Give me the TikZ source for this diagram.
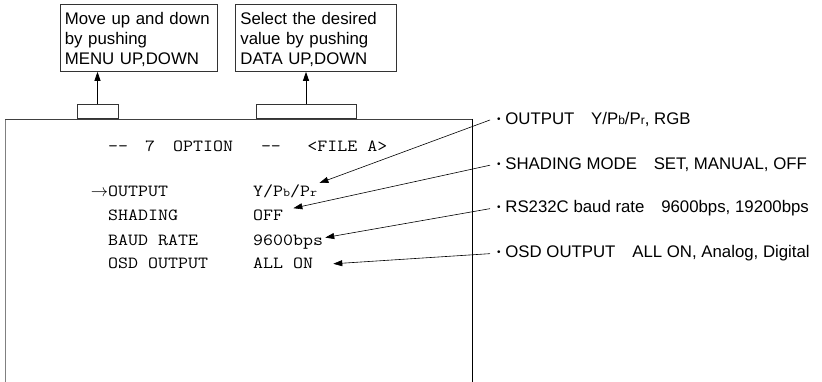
\documentclass[tikz,border=0pt]{standalone}
\usepackage{fontspec}
\setmainfont{Liberation Sans}
\setmonofont{Latin Modern Mono}[FakeStretch=1.14]
\usetikzlibrary{arrows.meta,positioning}

\newcommand{\smlchr}[1]{{\fontsize{12}{12}\selectfont #1}}
\newcommand{\dotmark}{\raisebox{2.5pt}{\fontsize{10}{10}\selectfont\char"2022}}

\begin{document}
\begin{tikzpicture}[x=1pt, y=-1pt, >={Triangle[length=9pt,width=6pt]},
  note/.style={draw=black!80, line width=0.8pt, anchor=north west, align=left,
    text width=#1, inner xsep=5pt, minimum height=67pt,
    font=\fontsize{16.8}{20}\selectfont},
  tab/.style={draw=black!80, line width=0.8pt, anchor=south, inner sep=0pt,
    minimum height=14pt, minimum width=#1},
  scr/.style={anchor=base west, inner sep=2pt,
    font=\ttfamily\fontsize{17}{20}\selectfont},
  opt/.style={anchor=base west, inner xsep=7pt,
    font=\fontsize{16.8}{20}\selectfont},
  arr/.style={line width=0.8pt, ->},
  lead/.style={line width=0.6pt, ->},
]
\useasboundingbox (0,0) rectangle (822,382);

%% Screen frame (open at the bottom)
\draw[gray, line width=0.9pt] (5,382) -- (5,119);
\draw[black!75, line width=0.8pt] (5,119) -- (472,119);
\draw[black, line width=0.8pt] (472,119) -- (472,382);

%% Key notes above the screen
\node[note=147pt] (boxm) at (59.5,4) {\rule{0pt}{16pt}Move up and down\\by pushing\\MENU UP,DOWN};
\node[note=151pt] (boxd) at (235,4) {\rule{0pt}{16pt}Select the desired\\value by pushing\\DATA UP,DOWN};

%% Tabs on the frame
\node[tab=41pt] (tabm) at (97.5,119) {};
\node[tab=100pt] (tabd) at (306,119) {};

\draw[arr] (tabm.north) -- (tabm.north |- boxm.south);
\draw[arr] (tabd.north) -- (tabd.north |- boxd.south);

%% Menu page
\node[scr] (hdr) at (106,152) {--\hspace{17pt}7\hspace{18pt}OPTION\hspace{28pt}--\hspace{26.5pt}<FILE A>};

\node[scr] (iout)  at (106,197) {\llap{$\rightarrow$}OUTPUT};
\node[scr] (ishd)  at (106,221) {SHADING};
\node[scr] (ibaud) at (106,245) {BAUD RATE};
\node[scr] (iosd)  at (106,269) {OSD OUTPUT};

\node[scr] (vout)  at (251,197) {Y/P\smlchr{b}/P\smlchr{r}};
\node[scr] (vshd)  at (251,221) {OFF};
\node[scr] (vbaud) at (251,245) {9600bps};
\node[scr] (vosd)  at (251,269) {ALL ON};

%% Setting ranges
\node[opt] (oout)  at (490,125) {\dotmark\ OUTPUT\quad Y/P\smlchr{b}/P\smlchr{r}, RGB};
\node[opt] (oshd)  at (490,170) {\dotmark\ SHADING MODE\quad SET, MANUAL, OFF};
\node[opt] (obaud) at (490,213) {\dotmark\ RS232C baud rate\quad 9600bps, 19200bps};
\node[opt] (oosd)  at (490,258) {\dotmark\ OSD OUTPUT\quad ALL ON, Analog, Digital};

%% Leaders
\draw[lead] (oout.west)  -- (vout.north east);
\draw[lead] (oshd.west)  -- ([xshift=8pt]vshd.north east);
\draw[lead] (obaud.west) -- ([yshift=4pt]vbaud.east);
\draw[lead] (oosd.west)  -- ([xshift=18pt]vosd.east);

\end{tikzpicture}
\end{document}
